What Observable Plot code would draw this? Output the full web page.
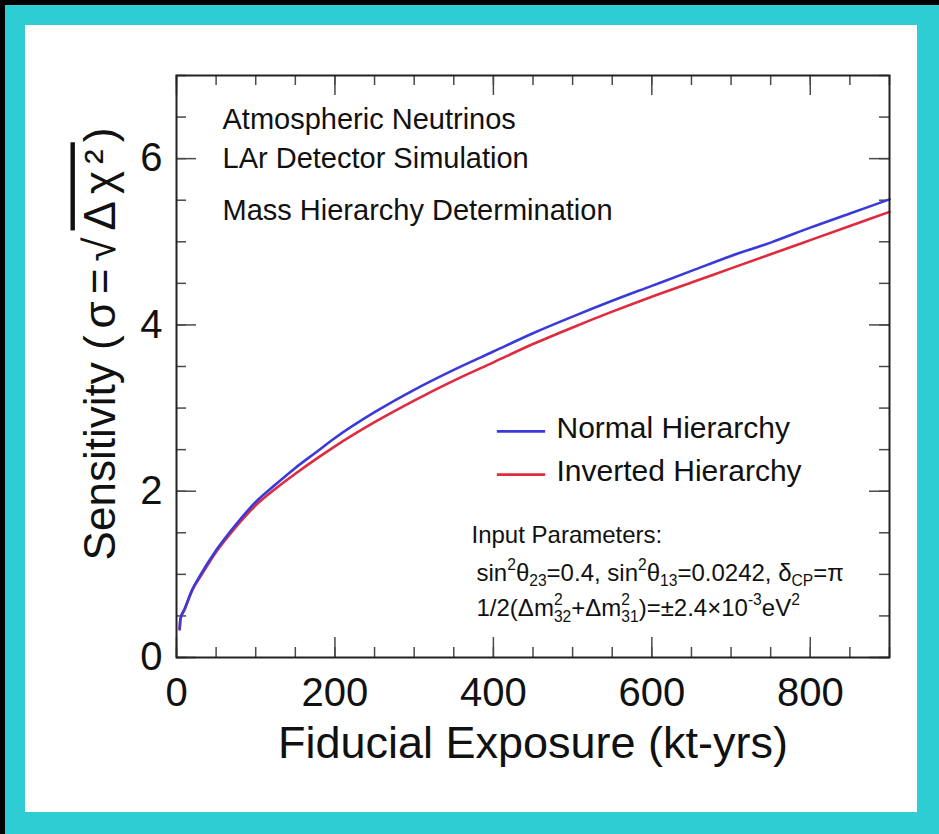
<!DOCTYPE html>
<html>
<head>
<meta charset="utf-8">
<script src="https://cdn.jsdelivr.net/npm/d3@7"></script>
<script src="https://cdn.jsdelivr.net/npm/@observablehq/plot@0.6"></script>
<style>
  html, body { margin: 0; padding: 0; background: #000; }
  #page { position: relative; width: 939px; height: 834px; overflow: hidden; background: #000; }
  #border { position: absolute; left: 5px; top: 5px; right: 0; bottom: 0; background: #2ecdd4; }
  #paper { position: absolute; left: 25px; top: 25px; width: 892px; height: 787px; background: #fff; }
  #chart { position: absolute; left: 0; top: 0; }
</style>
</head>
<body>
<div id="page">
  <div id="border"></div>
  <div id="paper"></div>
  <div id="chart"></div>
</div>
<script>
// Fiducial exposure (kt-yrs) sampled along both curves
const exposure = [4, 5, 10, 20, 30, 50, 75, 100, 125, 150, 175, 200, 250, 300, 350, 400, 450, 500, 550, 600, 650, 700, 750, 800, 850, 900];
// Sensitivity sigma = sqrt(delta chi^2)
const normalSigma   = [0.34, 0.47, 0.58, 0.82, 0.99, 1.29, 1.60, 1.87, 2.08, 2.28, 2.46, 2.64, 2.95, 3.22, 3.46, 3.68, 3.90, 4.10, 4.29, 4.47, 4.65, 4.83, 4.99, 5.17, 5.34, 5.51];
const invertedSigma = [0.34, 0.46, 0.57, 0.81, 0.97, 1.27, 1.57, 1.83, 2.03, 2.21, 2.38, 2.54, 2.83, 3.09, 3.33, 3.55, 3.77, 3.97, 4.16, 4.34, 4.51, 4.68, 4.85, 5.02, 5.19, 5.36];
const seriesNames = ["Normal Hierarchy", "Inverted Hierarchy"];
const seriesColors = ["#3a3ad8", "#e02a3e"];

// Axis ticks
const xMajor = [0, 200, 400, 600, 800];
const xMinor = d3.range(0, 901, 50);
const yMajor = [0, 2, 4, 6];
const yMinor = d3.range(0, 7.01, 0.5);

// Text blocks
const infoLines = ["Atmospheric Neutrinos", "LAr Detector Simulation", "Mass Hierarchy Determination"];
const paramTitle = "Input Parameters:";
const paramLine1 = [["sin"], ["2", "sup"], ["θ"], ["23", "sub"], ["=0.4, sin"], ["2", "sup"], ["θ"], ["13", "sub"], ["=0.0242, δ"], ["CP", "sub"], ["=π"]];
const paramLine2 = [["1/2(Δm"], ["2", "supsub", "32"], ["+Δm"], ["2", "supsub", "31"], [")=±2.4×10"], ["-3", "sup"], ["eV"], ["2", "sup"]];
const yTitle = [["Sensitivity "], ["(σ=√", "wide"], ["Δχ²", "wideovl"], [")", "wide"]];
const xTitle = "Fiducial Exposure (kt-yrs)";

const plain = parts => parts.map(p => p[1] === "supsub" ? p[0] + p[2] : p[0]).join("");

const rows = [];
exposure.forEach((x, i) => rows.push({series: seriesNames[1], x, y: invertedSigma[i]}));
exposure.forEach((x, i) => rows.push({series: seriesNames[0], x, y: normalSigma[i]}));

const W = 939, H = 834;
const mL = 176, mR = 50, mT = 75, mB = 177;
const fw = W - mL - mR, fh = H - mT - mB;
const majorLen = 20, minorLen = 10;
const tickStroke = "#4a4a4a";
const font = "'Liberation Sans', Arial, Helvetica, sans-serif";

const plot = Plot.plot({
  width: W, height: H,
  marginLeft: mL, marginRight: mR, marginTop: mT, marginBottom: mB,
  style: {background: "transparent", fontFamily: font, color: "#111"},
  x: {domain: [0, 900], label: null},
  y: {domain: [0, 7], label: null},
  color: {domain: seriesNames, range: seriesColors},
  marks: [
    // inward ticks on all four sides
    Plot.tickX(xMinor, {x: d => d, insetTop: fh - minorLen, stroke: tickStroke, strokeWidth: 1.5}),
    Plot.tickX(xMajor, {x: d => d, insetTop: fh - majorLen, stroke: tickStroke, strokeWidth: 1.5}),
    Plot.tickX(xMinor, {x: d => d, insetBottom: fh - minorLen, stroke: tickStroke, strokeWidth: 1.5}),
    Plot.tickX(xMajor, {x: d => d, insetBottom: fh - majorLen, stroke: tickStroke, strokeWidth: 1.5}),
    Plot.tickY(yMinor, {y: d => d, insetRight: fw - minorLen, stroke: tickStroke, strokeWidth: 1.5}),
    Plot.tickY(yMajor, {y: d => d, insetRight: fw - majorLen, stroke: tickStroke, strokeWidth: 1.5}),
    Plot.tickY(yMinor, {y: d => d, insetLeft: fw - minorLen, stroke: tickStroke, strokeWidth: 1.5}),
    Plot.tickY(yMajor, {y: d => d, insetLeft: fw - majorLen, stroke: tickStroke, strokeWidth: 1.5}),

    Plot.axisX({ticks: xMajor, tickSize: 0, tickPadding: 20, fontSize: 40, label: null, tickFormat: d => String(d)}),
    Plot.axisY({ticks: yMajor, tickSize: 0, tickPadding: 14, fontSize: 40, label: null, tickFormat: d => String(d)}),

    // sensitivity curves
    Plot.line(rows, {x: "x", y: "y", z: "series", stroke: "series", strokeWidth: 2.6, curve: "monotone-x"}),

    // legend
    Plot.ruleY(seriesNames, {y: (d, i) => 2.72 - i * 0.52, x1: 405, x2: 466, stroke: d => d, strokeWidth: 2.6}),
    Plot.text([seriesNames[0]], {frameAnchor: "top-left", dx: 380, dy: 362, textAnchor: "start", lineAnchor: "bottom", fontSize: 30}),
    Plot.text([seriesNames[1]], {frameAnchor: "top-left", dx: 380, dy: 405, textAnchor: "start", lineAnchor: "bottom", fontSize: 30}),

    // descriptive text
    Plot.text([infoLines[0]], {frameAnchor: "top-left", dx: 46, dy: 53, textAnchor: "start", lineAnchor: "bottom", fontSize: 29}),
    Plot.text([infoLines[1]], {frameAnchor: "top-left", dx: 46, dy: 92, textAnchor: "start", lineAnchor: "bottom", fontSize: 29}),
    Plot.text([infoLines[2]], {frameAnchor: "top-left", dx: 46, dy: 144, textAnchor: "start", lineAnchor: "bottom", fontSize: 29}),

    Plot.text([paramTitle], {frameAnchor: "top-left", dx: 295, dy: 467, textAnchor: "start", lineAnchor: "bottom", fontSize: 24}),
    Plot.text([plain(paramLine1)], {frameAnchor: "top-left", dx: 300, dy: 505, textAnchor: "start", lineAnchor: "bottom", fontSize: 24}),
    Plot.text([plain(paramLine2)], {frameAnchor: "top-left", dx: 300, dy: 540, textAnchor: "start", lineAnchor: "bottom", fontSize: 24}),

    // axis titles
    Plot.text([xTitle], {frameAnchor: "bottom", dy: 100, textAnchor: "middle", lineAnchor: "bottom", fontSize: 45}),
    Plot.text([plain(yTitle)], {frameAnchor: "left", dx: -62, dy: -26, rotate: -90, textAnchor: "middle", lineAnchor: "bottom", fontSize: 44}),

    Plot.frame({stroke: "#222", strokeWidth: 2})
  ]
});

document.getElementById("chart").appendChild(plot);

// rebuild formula strings with super/subscripts
function setRich(parts, size) {
  const key = plain(parts);
  d3.select(plot).selectAll("text").filter(function () { return this.textContent === key; }).each(function () {
    const t = d3.select(this);
    t.text(null);
    let cur = 0;
    const small = size * 0.65;
    const add = (str, fs, target, dx, opts = {}) => {
      const s = t.append("tspan").text(str).attr("dy", target - cur);
      if (fs !== size) s.attr("font-size", fs);
      if (dx) s.attr("dx", dx);
      if (opts.ovl) s.style("text-decoration", "overline");
      if (opts.wide) s.attr("letter-spacing", 7);
      cur = target;
      return s;
    };
    for (const [str, kind, extra] of parts) {
      if (!kind) add(str, size, 0, 0);
      else if (kind === "wide") add(str, size, 0, 0, {wide: true});
      else if (kind === "wideovl") add(str, size, 0, 0, {wide: true, ovl: true});
      else if (kind === "sup") add(str, small, -0.42 * size, 0);
      else if (kind === "sub") add(str, small, 0.24 * size, 0);
      else if (kind === "supsub") {
        const s = add(str, small, -0.42 * size, 0);
        const w = s.node().getComputedTextLength();
        add(extra, small, 0.26 * size, -w);
      }
    }
  });
}
setRich(paramLine1, 24);
setRich(paramLine2, 24);
setRich(yTitle, 44);
</script>
</body>
</html>
